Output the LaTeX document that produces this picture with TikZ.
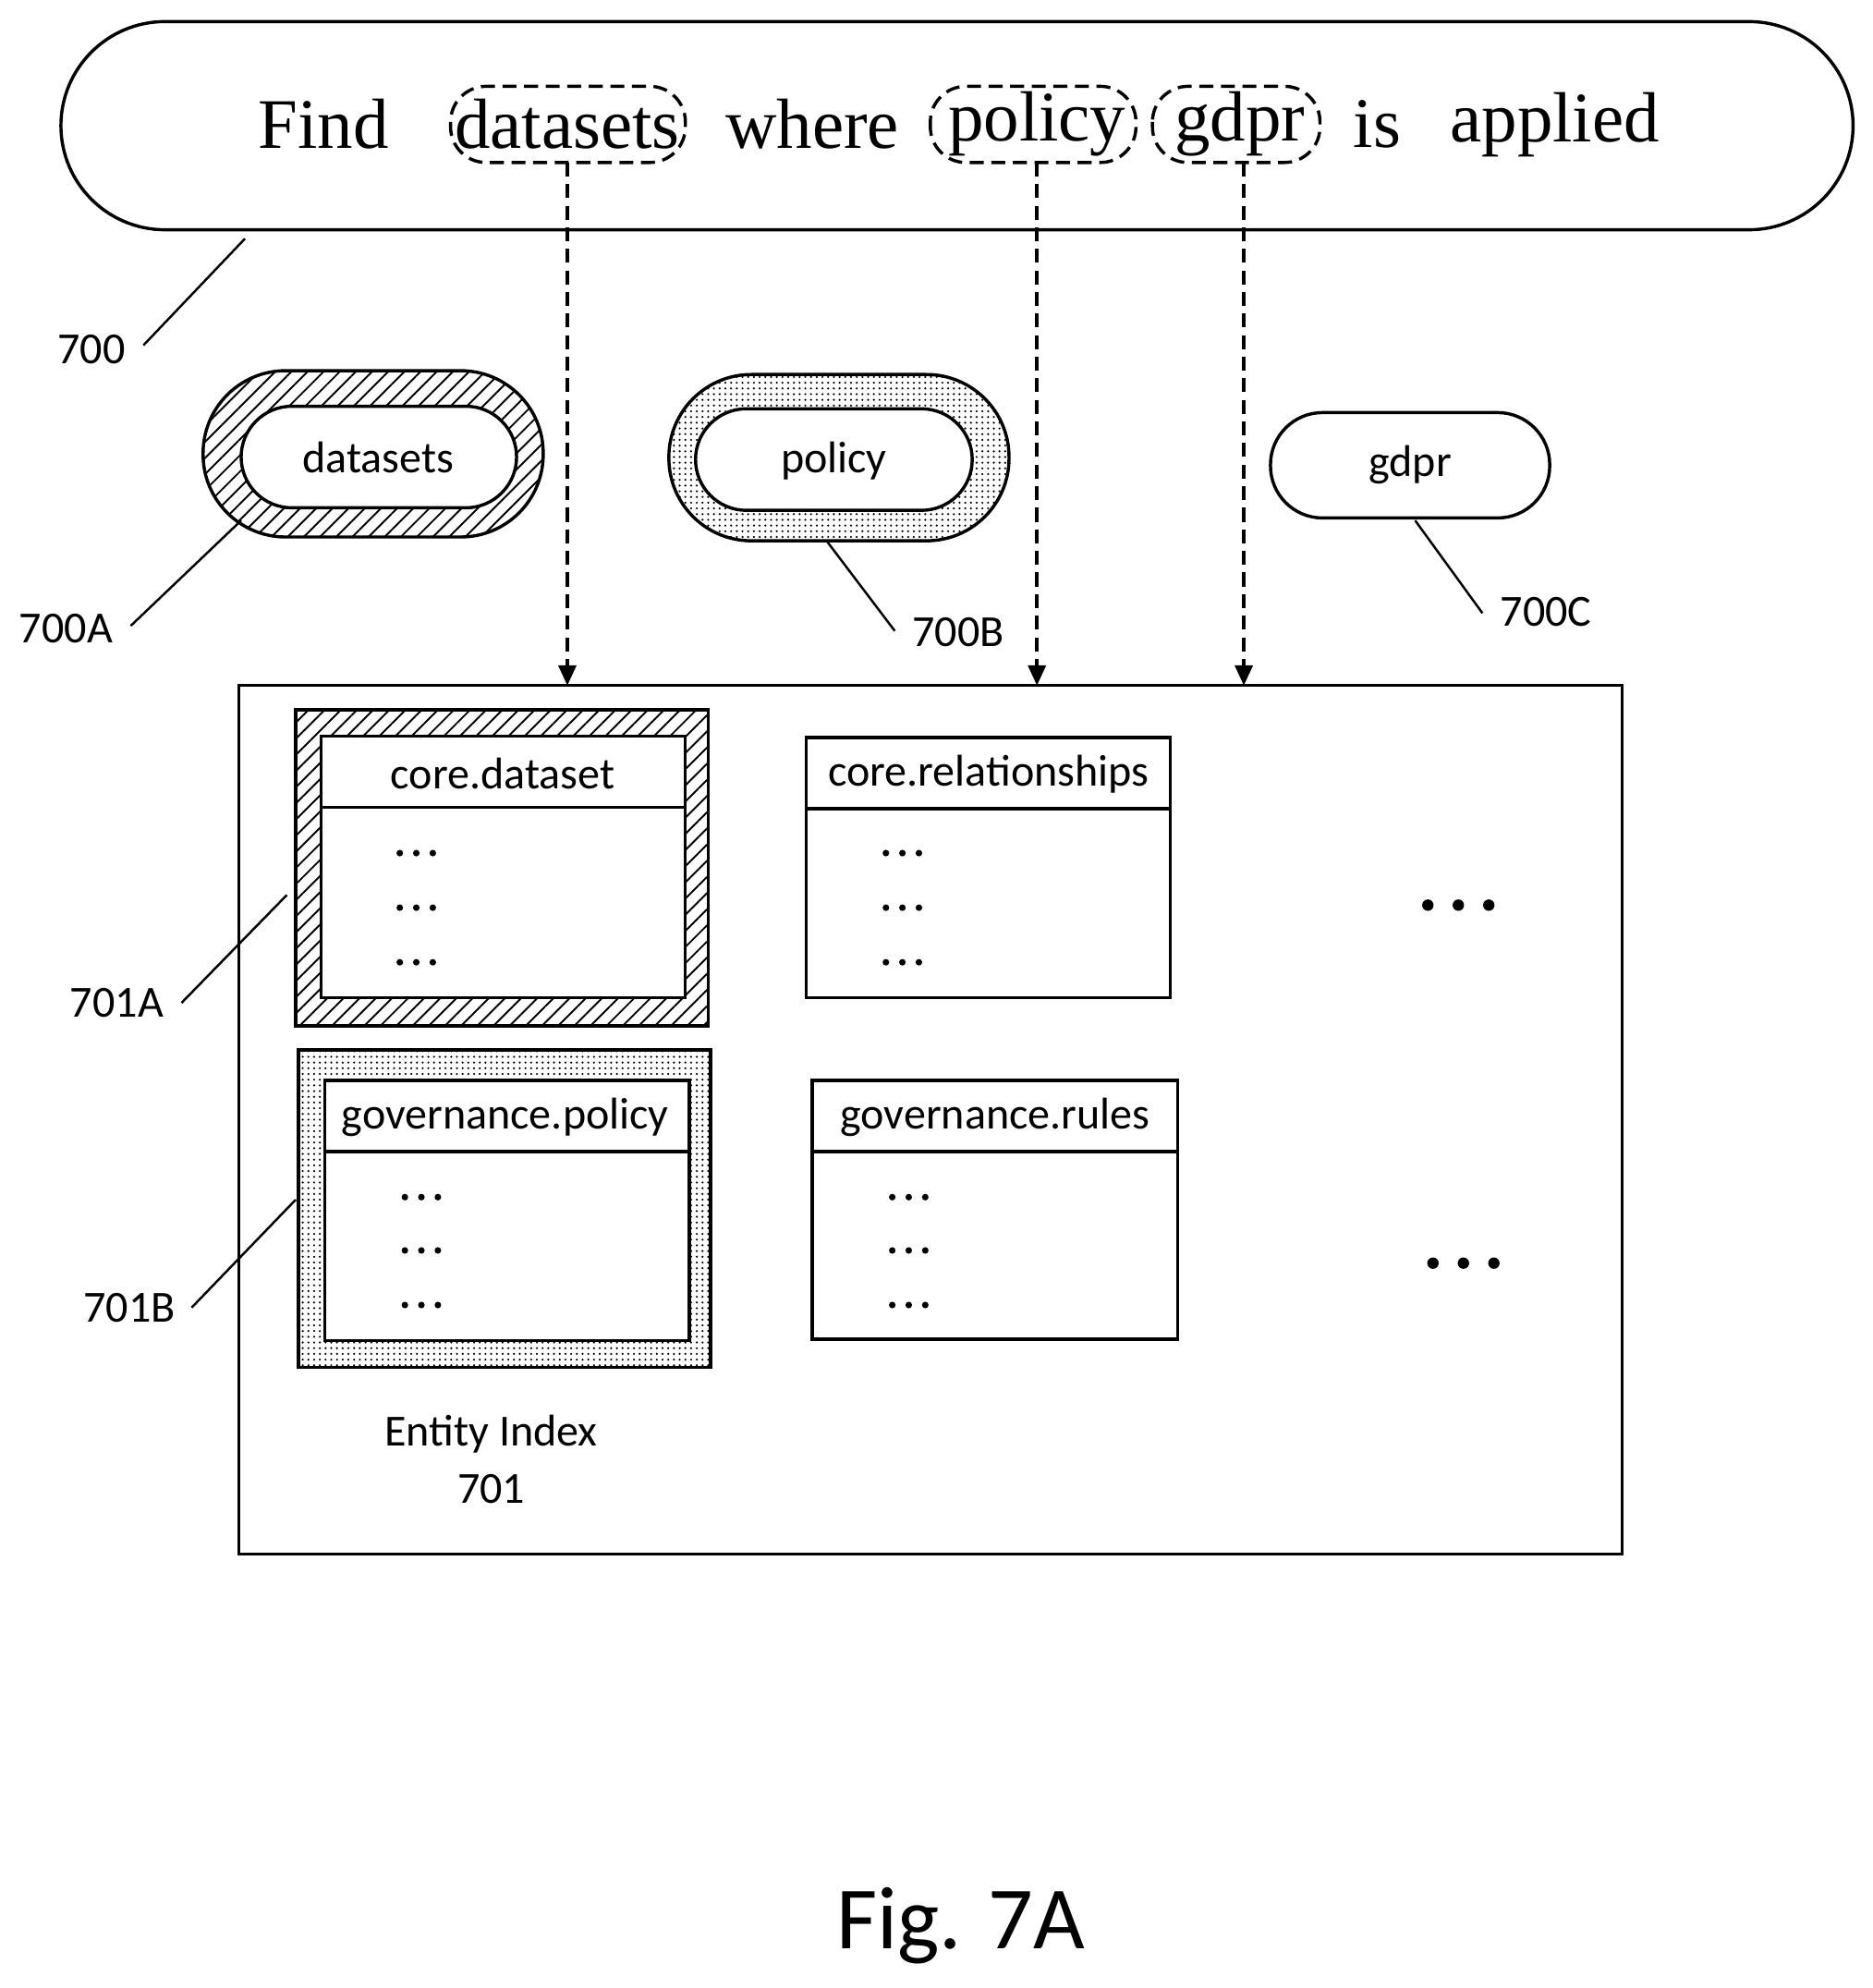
\documentclass[tikz,border=0pt]{standalone}
\usepackage{fontspec}
\setmainfont{Carlito}
\newfontfamily\serifq{Liberation Serif}
\usetikzlibrary{patterns.meta,arrows.meta}
\begin{document}
\begin{tikzpicture}[x=1pt,y=-1pt,
  ln/.style={line width=2.5pt},
  dsh/.style={line width=2.5pt,dash pattern=on 11pt off 6pt,rounded corners=28pt},
  arr/.style={line width=2.5pt,dash pattern=on 11pt off 6pt,-{Triangle[length=16pt,width=14pt]}},
  lead/.style={line width=1.8pt},
  lab/.style={font=\fontsize{35}{40}\selectfont},
  q/.style={font=\serifq\fontsize{56}{60}\selectfont},
  hat/.style={pattern={Lines[angle=45,distance=9pt,line width=1.4pt]}},
  dot/.style={pattern={Dots[distance=4.5pt,radius=0.9pt]}},
  sd/.pic={\foreach \i in {-13,0,13} \fill (\i,0) circle (2.6);},
  bd/.pic={\foreach \i in {-24,0,24} \fill (\i,0) circle (4.5);}]
\useasboundingbox (0,0) rectangle (1475,1566);
% query
\draw[ln,rounded corners=82pt] (48,17) rectangle (1460,181);
\node[q] (find) at (255,98) {Find};
\node[q] (wds) at (447,98) {datasets};
\node[q] (where) at (640,98) {where};
\node[q] (wpol) at (817,98) {policy};
\node[q] (wgd) at (977,98) {gdpr};
\node[q] (is) at (1085,98) {is};
\node[q] (app) at (1225,98) {applied};
\draw[dsh] (355,68) rectangle (540,128);
\draw[dsh] (733,68) rectangle (895,128);
\draw[dsh] (908,68) rectangle (1040,128);
% box
\draw[ln] (188,540) rectangle (1278,1224);
\coordinate (t1) at (447,540); \coordinate (t2) at (817,540); \coordinate (t3) at (980,540);
\coordinate (s1) at (447,128); \coordinate (s2) at (817,128); \coordinate (s3) at (980,128);
\draw[arr] (s1) -- (t1);
\draw[arr] (s2) -- (t2);
\draw[arr] (s3) -- (t3);
% 700
\node[lab] (l700) at (72,275) {700};
\coordinate (c700) at (193,188);
\draw[lead] (113,272) -- (c700);
% tokens
\draw[ln,hat,rounded corners=65pt] (160,292) rectangle (428,423);
\draw[ln,fill=white,rounded corners=40pt] (190,320) rectangle (407,400);
\node[lab] (ds) at (298,360) {datasets};
\draw[ln,dot,rounded corners=65pt] (527,295) rectangle (795,426);
\draw[ln,fill=white,rounded corners=40pt] (548,322) rectangle (766,402);
\node[lab] (pol) at (657,363) {policy};
\draw[ln,fill=white,rounded corners=41pt] (1001,325) rectangle (1221,408);
\node[lab] (gd) at (1111,366) {gdpr};
\node[lab] (l700a) at (52,495) {700A};
\draw[lead] (103,493) -- (190,410);
\node[lab] (l700b) at (755,498) {700B};
\draw[lead] (705,497) -- (652,427);
\node[lab] (l700c) at (1218,482) {700C};
\draw[lead] (1168,483) -- (1115,410);
% tables
\draw[ln,hat] (233,559) rectangle (558,808);
\draw[ln,fill=white] (253,580) rectangle (540,786);
\draw[ln] (253,636) -- (540,636);
\node[lab] (cd) at (396,609) {core.dataset};
\foreach \y in {672,715,758} \pic at (328,\y) {sd};
\draw[ln] (635,581) rectangle (922,786);
\draw[ln] (635,637) -- (922,637);
\node[lab] (cr) at (779,610) {core.relationships};
\foreach \y in {672,715,758} \pic at (711,\y) {sd};
\draw[ln,dot] (235,827) rectangle (560,1077);
\draw[ln,fill=white] (256,851) rectangle (543,1056);
\draw[ln] (256,907) -- (543,907);
\node[lab] (gp) at (398,880) {governance.policy};
\foreach \y in {943,985,1028} \pic at (332,\y) {sd};
\draw[ln] (640,851) rectangle (928,1055);
\draw[ln] (640,907) -- (928,907);
\node[lab] (gr) at (784,880) {governance.rules};
\foreach \y in {943,985,1028} \pic at (716,\y) {sd};
\pic at (1149,713) {bd};
\pic at (1153,995) {bd};
\node[lab] (l701a) at (92,790) {701A};
\draw[lead] (143,790) -- (226,705);
\node[lab] (l701b) at (102,1030) {701B};
\draw[lead] (151,1030) -- (233,945);
\node[lab] (ei) at (387,1130) {Entity Index};
\node[lab] (ei2) at (387,1173) {701};
\node[font=\fontsize{70}{74}\selectfont] (fig) at (757,1517) {Fig. 7A};
\end{tikzpicture}
\end{document}
